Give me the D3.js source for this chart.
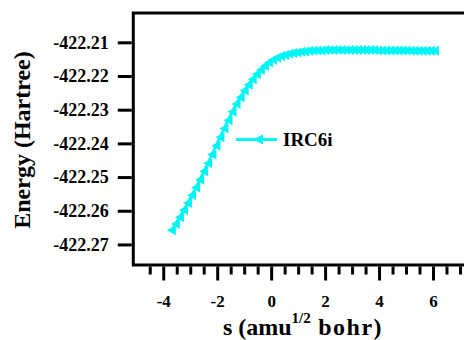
<!DOCTYPE html>
<html>
<head>
<meta charset="utf-8">
<script src="https://cdn.jsdelivr.net/npm/d3@7"></script>
<style>
  body { margin: 0; background: #fff; }
  svg text { font-family: "Liberation Serif", "Times New Roman", serif; font-weight: bold; }
</style>
</head>
<body>
<div id="chart"></div>
<script>
// IRC6i reaction path
const sValues = [-3.70, -3.55, -3.40, -3.25, -3.10, -2.95, -2.80, -2.65, -2.50, -2.35,
  -2.20, -2.05, -1.90, -1.75, -1.60, -1.45, -1.30, -1.15, -1.00, -0.85,
  -0.70, -0.55, -0.40, -0.25, -0.10, 0.05, 0.20, 0.35, 0.50, 0.65,
  0.80, 0.95, 1.10, 1.25, 1.40, 1.55, 1.70, 1.85, 2.00, 2.15,
  2.30, 2.45, 2.60, 2.75, 2.90, 3.05, 3.20, 3.35, 3.50, 3.65,
  3.80, 3.95, 4.10, 4.25, 4.40, 4.55, 4.70, 4.85, 5.00, 5.15,
  5.30, 5.45, 5.60, 5.75, 5.90, 6.05];
const energyValues = [-422.2658, -422.2639, -422.2619, -422.2598, -422.2577, -422.2554, -422.2531, -422.2508, -422.2483, -422.2459,
  -422.2433, -422.2407, -422.2382, -422.2356, -422.2331, -422.2306, -422.2283, -422.2263, -422.2243, -422.2226,
  -422.2210, -422.2195, -422.2182, -422.2170, -422.2160, -422.2152, -422.2146, -422.2141, -422.2138, -422.2134,
  -422.2132, -422.2130, -422.2128, -422.2127, -422.2125, -422.2125, -422.2124, -422.2124, -422.2123, -422.2123,
  -422.2123, -422.2123, -422.2123, -422.2123, -422.2123, -422.2123, -422.2123, -422.2123, -422.2123, -422.2123,
  -422.2123, -422.2124, -422.2124, -422.2124, -422.2124, -422.2124, -422.2124, -422.2124, -422.2124, -422.2125,
  -422.2125, -422.2125, -422.2125, -422.2125, -422.2125, -422.2125];
const yTicks = [-422.21, -422.22, -422.23, -422.24, -422.25, -422.26, -422.27];
const xMajorTicks = [-4, -2, 0, 2, 4, 6];
const xMinorTicks = [-4.5, -3.5, -3, -2.5, -1.5, -1, -0.5, 0.5, 1, 1.5, 2.5, 3, 3.5, 4.5, 5, 5.5, 6.5, 7];
const seriesName = "IRC6i";

const width = 464, height = 340;
const color = "#00f5f5";

const svg = d3.select("#chart")
  .append("svg")
  .attr("width", width)
  .attr("height", height);

const plotLeft = 133.3, plotRight = 474, plotTop = 13, plotBottom = 265;

const x = d3.scaleLinear().domain([-5.11, 7.52]).range([plotLeft, plotRight]);
const y = d3.scaleLinear().domain([-422.2761, -422.2013]).range([plotBottom, plotTop]);

// plain hyphen instead of the unicode minus d3 puts in
const hyphen = fmt => d => fmt(d).replace("\u2212", "-");

// y axis ticks + labels
const yAxis = d3.axisLeft(y)
  .tickValues(yTicks)
  .tickSize(14)
  .tickPadding(9)
  .tickFormat(hyphen(d3.format(".2f")));
const gy = svg.append("g").attr("transform", `translate(${plotLeft - 1.5},0)`).call(yAxis);
gy.select(".domain").remove();
gy.selectAll(".tick line").attr("stroke", "#000").attr("stroke-width", 3);
gy.selectAll(".tick text").attr("font-size", "18px").attr("fill", "#000")
  .style("font-family", '"Liberation Serif", serif').style("font-weight", "bold");

// x axis: major and minor ticks
const gxMinor = svg.append("g").attr("transform", `translate(0,${plotBottom + 1.5})`)
  .call(d3.axisBottom(x).tickValues(xMinorTicks).tickSize(8).tickFormat(""));
gxMinor.select(".domain").remove();
gxMinor.selectAll(".tick line").attr("stroke", "#000").attr("stroke-width", 3);

const gx = svg.append("g").attr("transform", `translate(0,${plotBottom + 1.5})`)
  .call(d3.axisBottom(x).tickValues(xMajorTicks).tickSize(14).tickPadding(14).tickFormat(hyphen(d3.format("d"))));
gx.select(".domain").remove();
gx.selectAll(".tick line").attr("stroke", "#000").attr("stroke-width", 3);
gx.selectAll(".tick text").attr("font-size", "17px").attr("fill", "#000")
  .style("font-family", '"Liberation Serif", serif').style("font-weight", "bold");

// frame
svg.append("rect")
  .attr("x", plotLeft)
  .attr("y", plotTop)
  .attr("width", plotRight - plotLeft)
  .attr("height", plotBottom - plotTop)
  .attr("fill", "none")
  .attr("stroke", "#000")
  .attr("stroke-width", 3);

// series
const points = sValues.map((s, i) => ({s: s, e: energyValues[i]}));
const line = d3.line().x(d => x(d.s)).y(d => y(d.e));
svg.append("path")
  .datum(points)
  .attr("d", line)
  .attr("fill", "none")
  .attr("stroke", color)
  .attr("stroke-width", 2.5);

// left pointing triangle marker
function leftTriangle(w, h) {
  return `M${-w / 2},0L${w / 2},${-h / 2}L${w / 2},${h / 2}Z`;
}

svg.append("g").selectAll("path")
  .data(points)
  .join("path")
  .attr("transform", d => `translate(${x(d.s)},${y(d.e)})`)
  .attr("d", leftTriangle(9, 10))
  .attr("fill", color);

// legend
const legendY = 139.5;
svg.append("line")
  .attr("x1", 236).attr("x2", 277)
  .attr("y1", legendY).attr("y2", legendY)
  .attr("stroke", color).attr("stroke-width", 3);
svg.append("path")
  .attr("transform", `translate(258,${legendY})`)
  .attr("d", leftTriangle(10, 10))
  .attr("fill", color);
svg.append("text")
  .attr("x", 283)
  .attr("y", legendY + 6.5)
  .attr("font-size", "19px")
  .attr("fill", "#000")
  .text(seriesName);

// axis titles
svg.append("text")
  .attr("transform", "translate(30,140) rotate(-90)")
  .attr("text-anchor", "middle")
  .attr("font-size", "24px")
  .attr("fill", "#000")
  .text("Energy (Hartree)");

const xTitle = svg.append("text")
  .attr("x", 303)
  .attr("y", 335)
  .attr("text-anchor", "middle")
  .attr("font-size", "24px")
  .attr("fill", "#000");
xTitle.append("tspan").text("s (amu");
xTitle.append("tspan").attr("font-size", "15px").attr("dy", -12).text("1/2");
xTitle.append("tspan").attr("dy", 12).attr("letter-spacing", "1.5px").text(" bohr)");
</script>
</body>
</html>
